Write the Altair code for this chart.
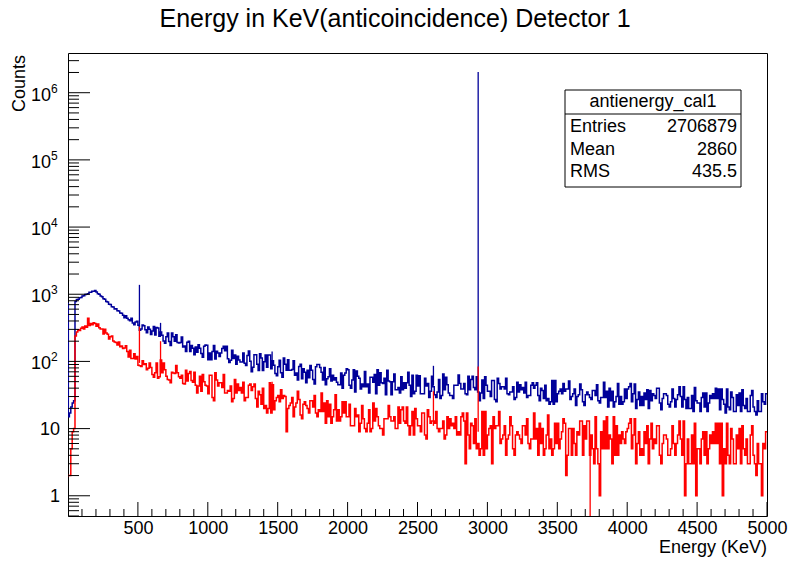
import altair as alt
import pandas as pd

FONT = "Liberation Sans"
BLUE = "#000099"
RED = "#ff0000"
LW = 1.5

# ---------------- data ----------------
bin_width = 10
bin_lo = list(range(0, 5000, bin_width))  # 500 bins, lower edges in KeV

blue_counts = [
    15, 17, 21, 24, 26, 780, 835, 842, 889, 898, 941, 948, 990, 1003, 1021, 1075, 1069, 1112, 1104, 1138,
    1082, 1021, 1003, 938, 921, 858, 842, 779, 766, 709, 701, 652, 648, 603, 607, 566, 562, 524, 522, 488,
    447, 478, 441, 417, 403, 440, 374, 351, 385, 396, 345, 290, 303, 347, 339, 297, 268, 325, 302, 251,
    284, 330, 247, 320, 315, 236, 273, 245, 201, 186, 233, 264, 198, 173, 265, 233, 200, 250, 192, 188,
    192, 231, 164, 169, 140, 193, 199, 141, 173, 157, 126, 164, 137, 177, 157, 131, 115, 168, 175, 174,
    106, 133, 106, 141, 172, 109, 142, 133, 118, 133, 156, 168, 144, 168, 110, 96, 104, 147, 111, 125,
    91, 119, 105, 98, 98, 133, 94, 87, 122, 143, 101, 70, 82, 126, 126, 91, 73, 130, 112, 73,
    99, 125, 82, 125, 125, 78, 102, 88, 66, 61, 83, 104, 68, 58, 112, 91, 74, 106, 74, 74,
    76, 102, 62, 67, 53, 84, 91, 55, 78, 69, 48, 74, 57, 87, 74, 54, 46, 83, 90, 90,
    81, 69, 53, 81, 45, 55, 59, 78, 51, 62, 53, 57, 49, 45, 45, 67, 40, 62, 67, 78,
    75, 44, 40, 53, 75, 35, 72, 60, 56, 39, 46, 42, 71, 42, 46, 34, 58, 58, 49, 64,
    33, 75, 44, 68, 48, 47, 56, 32, 74, 51, 50, 32, 50, 65, 38, 38, 41, 34, 59, 38,
    48, 40, 48, 69, 44, 30, 62, 33, 36, 62, 43, 61, 33, 33, 33, 56, 43, 47, 29, 36,
    60, 42, 32, 29, 35, 54, 28, 31, 65, 38, 58, 45, 34, 31, 31, 28, 44, 44, 44, 63,
    47, 39, 39, 47, 33, 32, 60, 38, 54, 60, 41, 38, 59, 35, 26, 34, 53, 28, 59, 44,
    36, 36, 30, 52, 52, 27, 25, 56, 47, 39, 42, 42, 39, 56, 33, 32, 35, 35, 42, 27,
    29, 49, 35, 45, 38, 41, 34, 49, 29, 31, 31, 44, 48, 40, 44, 48, 31, 26, 40, 37,
    28, 44, 26, 28, 23, 25, 52, 23, 52, 25, 33, 36, 39, 33, 47, 36, 39, 39, 51, 27,
    30, 33, 39, 22, 30, 32, 46, 38, 25, 22, 32, 35, 32, 29, 27, 37, 37, 31, 45, 26,
    24, 29, 29, 49, 29, 36, 21, 40, 26, 36, 21, 25, 30, 47, 23, 30, 23, 25, 39, 28,
    39, 42, 47, 25, 33, 46, 20, 27, 35, 22, 30, 22, 34, 27, 38, 20, 37, 26, 33, 31,
    28, 40, 40, 24, 19, 28, 33, 33, 31, 23, 21, 25, 39, 28, 21, 27, 32, 42, 30, 21,
    42, 27, 20, 29, 20, 20, 31, 18, 41, 26, 24, 24, 18, 29, 34, 21, 34, 18, 24, 31,
    28, 33, 28, 40, 28, 39, 19, 39, 27, 23, 17, 39, 21, 19, 35, 29, 18, 18, 32, 22,
    34, 18, 38, 22, 20, 28, 18, 18, 31, 37, 21, 18, 16, 26, 18, 18, 33, 25, 23, 33,
]

red_counts = [
    2, 2, 5, 9, 10, 240, 275, 296, 288, 312, 325, 305, 338, 322, 440, 342, 366, 351, 378, 368,
    335, 360, 317, 305, 305, 257, 300, 265, 254, 216, 232, 240, 201, 194, 192, 175, 194, 165, 170, 156,
    158, 171, 140, 116, 147, 111, 111, 130, 109, 118, 88, 86, 84, 102, 90, 92, 75, 79, 95, 81,
    64, 58, 68, 95, 56, 59, 105, 68, 95, 75, 60, 54, 53, 48, 69, 67, 66, 87, 68, 59,
    56, 62, 47, 46, 74, 51, 66, 71, 52, 49, 69, 44, 34, 43, 60, 36, 64, 50, 44, 43,
    33, 62, 62, 29, 26, 68, 53, 43, 48, 48, 41, 64, 34, 34, 37, 36, 43, 25, 28, 54,
    34, 46, 37, 41, 34, 49, 26, 29, 29, 44, 46, 37, 42, 46, 28, 21, 36, 32, 23, 40,
    20, 22, 17, 20, 48, 17, 45, 19, 26, 29, 31, 25, 38, 28, 31, 30, 9, 20, 22, 24,
    29, 15, 21, 24, 36, 27, 16, 14, 23, 25, 22, 20, 17, 26, 26, 21, 31, 17, 15, 19,
    18, 34, 18, 24, 12, 26, 15, 23, 12, 15, 19, 32, 13, 19, 13, 15, 25, 17, 25, 15,
    15, 23, 11, 11, 11, 20, 15, 16, 9, 12, 22, 14, 10, 9, 12, 19, 9, 10, 24, 13,
    20, 15, 11, 10, 10, 8, 14, 14, 14, 22, 15, 13, 13, 15, 10, 10, 21, 12, 19, 21,
    13, 12, 21, 11, 8, 11, 18, 8, 20, 14, 11, 11, 9, 17, 17, 8, 7, 19, 15, 12,
    13, 13, 12, 18, 10, 9, 10, 10, 13, 7, 8, 15, 10, 14, 11, 12, 10, 15, 8, 9,
    8, 15, 17, 13, 3, 17, 8, 5, 12, 11, 6, 14, 5, 6, 4, 5, 18, 4, 18, 5,
    8, 10, 11, 3, 15, 10, 11, 11, 18, 6, 7, 8, 11, 4, 7, 8, 15, 11, 5, 4,
    8, 9, 8, 7, 6, 11, 11, 8, 14, 6, 5, 7, 7, 17, 7, 10, 4, 12, 6, 10,
    4, 5, 8, 16, 5, 7, 4, 5, 12, 6, 12, 5, 7, 9, 14, 12, 2, 4, 10, 10,
    4, 10, 6, 4, 9, 8, 13, 13, 4, 11, 7, 13, 13, 4, 8, 5, 3, 15, 5, 3,
    1, 9, 5, 13, 5, 15, 5, 8, 7, 3, 15, 4, 11, 4, 8, 6, 9, 7, 6, 9,
    10, 12, 14, 5, 8, 14, 3, 6, 9, 4, 5, 4, 9, 6, 11, 3, 7, 12, 5, 7,
    6, 11, 11, 4, 3, 6, 8, 8, 7, 4, 4, 5, 11, 6, 4, 6, 8, 13, 7, 4,
    13, 1, 3, 7, 3, 3, 8, 3, 12, 1, 5, 5, 3, 7, 9, 4, 9, 3, 5, 8,
    6, 9, 6, 12, 6, 12, 3, 12, 1, 5, 3, 12, 4, 3, 10, 7, 3, 3, 8, 5,
    10, 3, 11, 5, 4, 7, 3, 3, 8, 11, 4, 3, 2, 6, 3, 3, 1, 6, 5, 9,
]

# narrow lines (single fine bins)
blue_spike_E = [3, 511, 662, 1460, 2614, 2934]
blue_spike_lo = [15, 330, 235, 84, 44, 38]
blue_spike_hi = [750, 1380, 375, 140, 86, 2030000]

red_spike_E = [511, 662, 1460, 2614, 2934]
red_spike_lo = [95, 70, 26, 11, 9]
red_spike_hi = [330, 200, 50, 36, 84]

# empty bin (drawn down to the bottom of the frame)
red_zero_E = [3735]
red_zero_lo = [0.5]
red_zero_hi = [5]

x_major = list(range(500, 5001, 500))
x_minor = [v for v in range(100, 5000, 100) if v % 500]
y_low_vals = [1, 10]
y_low_text = ["1", "10"]
y_high_vals = [1e2, 1e3, 1e4, 1e5, 1e6]
y_high_exp = ["2", "3", "4", "5", "6"]
y_major = y_low_vals + y_high_vals
y_minor = [m * 10.0 ** k for k in range(-1, 7) for m in range(2, 10)
           if 0.5 <= m * 10.0 ** k <= 3.9e6]

title_text = "Energy in KeV(anticoincidence) Detector 1"
x_title = "Energy (KeV)"
y_title = "Counts"
stats_title = "antienergy_cal1"
stats_names = ["Entries", "Mean", "RMS"]
stats_values = ["2706879", "2860", "435.5"]

# ---------------- scales / helpers ----------------
W, H = 699, 463
XS = alt.Scale(domain=[0, 5000], nice=False, zero=False)
YS = alt.Scale(type="log", domain=[0.5, 3.9e6], nice=False)
XAX = alt.Axis(values=x_major, format="d", ticks=False, domain=False, grid=False,
               labelFontSize=18, labelFont=FONT, labelColor="black", labelPadding=3,
               labelFlush=False, title=None)


def xe(field="E"):
    return alt.X(f"{field}:Q", scale=XS, axis=XAX)


def ye(field="C"):
    return alt.Y(f"{field}:Q", scale=YS, axis=None)


def one(**kw):
    return pd.DataFrame({k: [v] for k, v in kw.items()})


n = min(len(bin_lo), len(blue_counts), len(red_counts))
edges = bin_lo[:n] + [5000]
blue_df = pd.DataFrame({"E": edges, "C": blue_counts[:n] + [blue_counts[n - 1]]})
red_df = pd.DataFrame({"E": edges, "C": red_counts[:n] + [red_counts[n - 1]]})

blue_line = alt.Chart(blue_df).mark_line(
    interpolate="step-after", color=BLUE, strokeWidth=LW, clip=True
).encode(x=xe(), y=ye())
red_line = alt.Chart(red_df).mark_line(
    interpolate="step-after", color=RED, strokeWidth=LW, clip=True
).encode(x=xe(), y=ye())


def rules(E, lo, hi, color):
    return alt.Chart(pd.DataFrame({"E": E, "C": lo, "hi": hi})).mark_rule(
        color=color, strokeWidth=1.3, clip=True
    ).encode(x=xe(), y=ye(), y2="hi:Q")


blue_spikes = rules(blue_spike_E, blue_spike_lo, blue_spike_hi, BLUE)
red_spikes = rules(red_spike_E, red_spike_lo, red_spike_hi, RED)
red_zero = rules(red_zero_E, red_zero_lo, red_zero_hi, RED)

# inward ticks (ROOT style)
xmaj = alt.Chart(pd.DataFrame({"E": x_major})).mark_rule(color="black", strokeWidth=1).encode(
    x=xe(), y=alt.value(H), y2=alt.value(H - 14))
xmin = alt.Chart(pd.DataFrame({"E": x_minor})).mark_rule(color="black", strokeWidth=1).encode(
    x=xe(), y=alt.value(H), y2=alt.value(H - 7))
ymaj = alt.Chart(pd.DataFrame({"C": y_major})).mark_rule(color="black", strokeWidth=1).encode(
    y=ye(), x=alt.value(0), x2=alt.value(22))
ymin = alt.Chart(pd.DataFrame({"C": y_minor})).mark_rule(color="black", strokeWidth=1).encode(
    y=ye(), x=alt.value(0), x2=alt.value(11))

# y labels
ylab_low = alt.Chart(pd.DataFrame({"C": y_low_vals, "t": y_low_text})).mark_text(
    font=FONT, fontSize=18, align="right", baseline="middle", color="black", dy=1
).encode(y=ye(), x=alt.value(-8), text="t:N")
ylab_base = alt.Chart(pd.DataFrame({"C": y_high_vals, "t": ["10"] * len(y_high_vals)})).mark_text(
    font=FONT, fontSize=18, align="right", baseline="middle", color="black", dy=3
).encode(y=ye(), x=alt.value(-17), text="t:N")
ylab_exp = alt.Chart(pd.DataFrame({"C": y_high_vals, "t": y_high_exp})).mark_text(
    font=FONT, fontSize=12, align="left", baseline="middle", color="black", dy=-4
).encode(y=ye(), x=alt.value(-17), text="t:N")

# titles
title = alt.Chart(one(t=title_text)).mark_text(
    font=FONT, fontSize=25, align="center", baseline="alphabetic", color="black"
).encode(text="t:N", x=alt.value(327), y=alt.value(-26))
xtitle = alt.Chart(one(t=x_title)).mark_text(
    font=FONT, fontSize=18, align="right", baseline="alphabetic", color="black"
).encode(text="t:N", x=alt.value(W), y=alt.value(H + 37))
ytitle = alt.Chart(one(t=y_title)).mark_text(
    font=FONT, fontSize=18, align="right", baseline="middle", color="black", angle=270
).encode(text="t:N", x=alt.value(-48), y=alt.value(2))

# stats box
BX0, BX1, BY0, BY1, BSEP = 497, 673, 37, 134, 61
box = alt.Chart(one(a=1)).mark_rect(fill="white", stroke="black", strokeWidth=1).encode(
    x=alt.value(BX0), x2=alt.value(BX1), y=alt.value(BY0), y2=alt.value(BY1))
sep = alt.Chart(one(a=1)).mark_rule(color="black", strokeWidth=1).encode(
    x=alt.value(BX0), x2=alt.value(BX1), y=alt.value(BSEP))
box_title = alt.Chart(one(t=stats_title)).mark_text(
    font=FONT, fontSize=18, align="center", baseline="middle", color="black"
).encode(text="t:N", x=alt.value((BX0 + BX1) / 2), y=alt.value(49))
row_layers = []
for i, (nm, val) in enumerate(zip(stats_names, stats_values)):
    yy = 74 + 22.5 * i
    row_layers.append(alt.Chart(one(t=nm)).mark_text(
        font=FONT, fontSize=18, align="left", baseline="middle", color="black"
    ).encode(text="t:N", x=alt.value(BX0 + 5), y=alt.value(yy)))
    row_layers.append(alt.Chart(one(t=val)).mark_text(
        font=FONT, fontSize=18, align="right", baseline="middle", color="black"
    ).encode(text="t:N", x=alt.value(BX1 - 4), y=alt.value(yy)))

chart = alt.layer(
    blue_line, blue_spikes, red_line, red_spikes, red_zero,
    xmin, xmaj, ymin, ymaj, ylab_low, ylab_base, ylab_exp,
    title, xtitle, ytitle, box, sep, box_title, *row_layers
).properties(
    width=W, height=H,
    padding={"left": 68, "top": 53, "right": 24, "bottom": 49},
    autosize=alt.AutoSizeParams(type="none"),
    background="white",
).configure_view(stroke="black", strokeWidth=1)

chart.save("out.html", embed_options={"renderer": "svg", "actions": False})
